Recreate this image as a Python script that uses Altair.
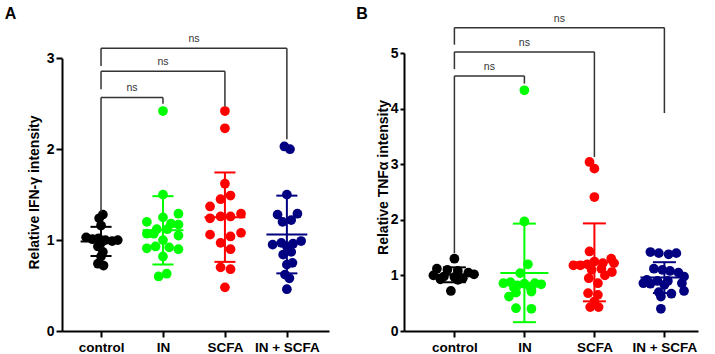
import altair as alt
import pandas as pd

groups = ["control", "IN", "SCFA", "IN + SCFA"]
group_colors = ["#000000", "#00ff00", "#ff0000", "#000080"]

# Panel A: relative IFN-gamma intensity (values and horizontal scatter per dot)
ifng_control = [1.28, 1.24, 1.16, 1.03, 1.01, 1.02, 1.00, 0.99, 1.00, 0.97, 0.93, 0.87, 0.82, 0.74, 0.72]
ifng_control_dx = [0.03, -0.03, 0.0, -0.24, -0.14, -0.04, 0.07, 0.18, 0.27, 0.0, -0.05, 0.03, 0.0, -0.05, 0.04]
ifng_in = [2.42, 1.50, 1.29, 1.25, 1.20, 1.18, 1.17, 1.12, 1.12, 1.07, 1.07, 1.05, 1.00, 0.93, 0.91, 0.92, 0.90, 0.82, 0.63, 0.60]
ifng_in_dx = [0.0, 0.0, 0.25, 0.0, -0.26, 0.13, 0.25, -0.1, 0.07, -0.26, -0.15, 0.25, 0.0, -0.12, -0.26, 0.1, 0.25, 0.0, 0.06, -0.07]
ifng_scfa = [2.42, 2.23, 1.62, 1.45, 1.49, 1.37, 1.24, 1.26, 1.26, 1.29, 1.06, 0.97, 1.04, 1.08, 0.90, 0.70, 0.68, 0.48]
ifng_scfa_dx = [0.0, 0.0, 0.0, -0.07, 0.09, -0.24, -0.24, -0.07, 0.09, 0.26, -0.24, -0.07, 0.09, 0.26, 0.09, -0.07, 0.09, 0.0]
ifng_in_scfa = [2.03, 2.00, 1.50, 1.28, 1.29, 1.20, 1.22, 0.95, 0.97, 0.96, 0.99, 0.93, 0.84, 0.87, 0.73, 0.75, 0.62, 0.58, 0.46]
ifng_in_scfa_dx = [-0.04, 0.05, 0.0, -0.15, 0.17, -0.07, 0.07, -0.23, -0.09, 0.1, 0.23, 0.0, -0.06, 0.07, 0.0, 0.09, -0.03, 0.04, 0.0]

# Panel B: relative TNF-alpha intensity
tnf_control = [1.30, 1.12, 1.10, 1.08, 1.05, 1.02, 1.00, 0.98, 0.97, 0.95, 0.93, 0.92, 0.72]
tnf_control_dx = [0.0, -0.25, -0.1, 0.05, 0.2, 0.28, -0.3, -0.15, 0.0, 0.12, -0.2, 0.05, -0.05]
tnf_in = [4.33, 1.97, 1.20, 1.04, 0.86, 0.88, 0.82, 0.85, 0.80, 0.86, 0.84, 0.78, 0.75, 0.69, 0.71, 0.62, 0.41, 0.40]
tnf_in_dx = [0.0, 0.0, 0.05, -0.06, -0.3, -0.2, -0.1, 0.0, 0.08, 0.15, 0.24, -0.15, 0.1, -0.12, 0.1, -0.22, -0.12, 0.1]
tnf_scfa = [3.04, 2.92, 2.41, 1.43, 1.30, 1.22, 1.25, 1.22, 1.18, 1.18, 1.20, 1.10, 1.12, 1.06, 1.00, 0.95, 0.86, 0.68, 0.65, 0.53, 0.43, 0.43]
tnf_scfa_dx = [-0.07, 0.0, 0.0, -0.07, 0.24, 0.28, 0.0, 0.12, -0.3, -0.2, -0.1, -0.04, 0.1, 0.25, 0.15, -0.08, 0.05, -0.09, 0.05, 0.0, -0.06, 0.06]
tnf_in_scfa = [1.42, 1.40, 1.38, 1.40, 1.12, 1.10, 1.08, 1.05, 0.98, 0.90, 0.90, 0.92, 0.86, 0.85, 0.83, 0.86, 0.72, 0.70, 0.67, 0.62, 0.40]
tnf_in_scfa_dx = [-0.2, -0.08, 0.06, 0.17, -0.15, -0.03, 0.08, 0.2, 0.28, -0.1, 0.05, -0.25, -0.3, -0.2, 0.0, 0.25, 0.28, -0.08, 0.1, -0.05, -0.05]

# Significance brackets: compared groups, bar height, leg ends, label
bracket_pairs = [(0, 1), (0, 2), (0, 3)]
bracket_labels = ["ns", "ns", "ns"]
ifng_bracket_y = [2.57, 2.857, 3.11]
ifng_bracket_left = [1.31, 2.66, 2.915]
ifng_bracket_right = [2.50, 2.47, 2.11]
tnf_bracket_y = [4.587, 5.02, 5.456]
tnf_bracket_left = [1.40, 4.71, 5.15]
tnf_bracket_right = [4.45, 3.13, 3.92]

FONT = "Liberation Sans"


def points_frame(values, offsets):
    rows = []
    for i, (vals, dxs) in enumerate(zip(values, offsets)):
        for v, d in zip(vals, dxs):
            rows.append({"group": groups[i], "idx": i, "x": i + d, "value": v})
    return pd.DataFrame(rows)


def bracket_frame(ys, lefts, rights):
    rows = []
    for (a, b), y, l, r, t in zip(bracket_pairs, ys, lefts, rights, bracket_labels):
        rows.append({"a": a, "b": b, "mid": (a + b) / 2, "y": y, "left": l, "right": r, "label": t})
    return pd.DataFrame(rows)


label_expr = " : ".join(
    f"datum.value == {i} ? '{g}'" for i, g in enumerate(groups)
) + " : ''"


def panel(df, br, ymax, yticks, ytitle, width, height, yrange, xdomain,
          mean_hw, cap_hw, title_x, title_y, letter, letter_xy, tick_size):
    color = alt.Color("group:N", scale=alt.Scale(domain=groups, range=group_colors), legend=None)
    xs = alt.Scale(domain=xdomain, nice=False, zero=False)
    ys = alt.Scale(domain=[0, ymax], nice=False, zero=True, range=yrange)

    x_axis = alt.Axis(
        values=[0, 1, 2, 3], labelExpr=label_expr, title=None, grid=False,
        domainColor="black", domainWidth=2, tickColor="black", tickWidth=2, tickSize=6,
        labelFont=FONT, labelFontSize=13.5, labelFontWeight="bold", labelColor="black",
        labelPadding=3, labelOverlap=False, labelFlush=False,
    )
    y_axis = alt.Axis(
        values=yticks, title=ytitle, grid=False,
        domainColor="black", domainWidth=2, tickColor="black", tickWidth=2, tickSize=tick_size,
        labelFont=FONT, labelFontSize=14, labelFontWeight="bold", labelColor="black",
        labelPadding=2,
        titleFont=FONT, titleFontSize=14, titleFontWeight="bold", titleColor="black",
        titleAngle=-90, titleAlign="center", titleBaseline="middle",
        titleX=title_x, titleY=title_y,
    )

    def X(field):
        return alt.X(field, scale=xs, axis=x_axis)

    def Y(field):
        return alt.Y(field, scale=ys, axis=y_axis)

    base = alt.Chart(df)
    dots = base.mark_circle(size=95, opacity=1).encode(x=X("x:Q"), y=Y("value:Q"), color=color)

    # mean ± SD computed from the dots of each group
    stats = base.transform_aggregate(
        mean="mean(value)", sd="stdev(value)", groupby=["group", "idx"]
    ).transform_calculate(
        lo="datum.mean - datum.sd",
        hi="datum.mean + datum.sd",
        mx0=f"datum.idx - {mean_hw}",
        mx1=f"datum.idx + {mean_hw}",
        cx0=f"datum.idx - {cap_hw}",
        cx1=f"datum.idx + {cap_hw}",
    )
    stem = stats.mark_rule(strokeWidth=2).encode(x=X("idx:Q"), y=Y("lo:Q"), y2="hi:Q", color=color)
    mean_line = stats.mark_rule(strokeWidth=2).encode(x=X("mx0:Q"), x2="mx1:Q", y=Y("mean:Q"), color=color)
    cap_hi = stats.mark_rule(strokeWidth=2).encode(x=X("cx0:Q"), x2="cx1:Q", y=Y("hi:Q"), color=color)
    cap_lo = stats.mark_rule(strokeWidth=2).encode(x=X("cx0:Q"), x2="cx1:Q", y=Y("lo:Q"), color=color)

    bb = alt.Chart(br)
    bar = bb.mark_rule(strokeWidth=1.5, color="#333333").encode(x=X("a:Q"), x2="b:Q", y=Y("y:Q"))
    leg_l = bb.mark_rule(strokeWidth=1.5, color="#333333").encode(x=X("a:Q"), y=Y("left:Q"), y2="y:Q")
    leg_r = bb.mark_rule(strokeWidth=1.5, color="#333333").encode(x=X("b:Q"), y=Y("right:Q"), y2="y:Q")
    ns = bb.mark_text(font=FONT, fontSize=10.5, color="#333333", baseline="middle", dy=-9).encode(
        x=X("mid:Q"), y=Y("y:Q"), text="label:N"
    )

    tag = alt.Chart(pd.DataFrame({"t": [letter]})).mark_text(
        font=FONT, fontSize=16, fontWeight="bold", color="black", baseline="middle", align="center"
    ).encode(text="t:N", x=alt.value(letter_xy[0]), y=alt.value(letter_xy[1]))

    return alt.layer(dots, stem, mean_line, cap_hi, cap_lo, bar, leg_l, leg_r, ns, tag).properties(
        width=width, height=height
    )


df_a = points_frame(
    [ifng_control, ifng_in, ifng_scfa, ifng_in_scfa],
    [ifng_control_dx, ifng_in_dx, ifng_scfa_dx, ifng_in_scfa_dx],
)
df_b = points_frame(
    [tnf_control, tnf_in, tnf_scfa, tnf_in_scfa],
    [tnf_control_dx, tnf_in_dx, tnf_scfa_dx, tnf_in_scfa_dx],
)

panel_a = panel(
    df_a, bracket_frame(ifng_bracket_y, ifng_bracket_left, ifng_bracket_right),
    3, [0, 1, 2, 3], "Relative IFN-γ intensity", 267, 278, [278, 5.3], [-0.63, 3.68],
    0.33, 0.17, -28, 139, "A", (-51.5, -38.7), 6,
)
panel_b = panel(
    df_b, bracket_frame(tnf_bracket_y, tnf_bracket_left, tnf_bracket_right),
    5, [0, 1, 2, 3, 4, 5], "Relative TNFα intensity", 294, 278, [278, 0], [-0.72, 3.48],
    0.343, 0.164, -21, 124, "B", (-42, -39), 4,
)

chart = alt.hconcat(panel_a, panel_b, spacing=75, bounds="flush").properties(
    padding={"left": 4, "top": 6, "right": 5, "bottom": 0}
).configure_view(stroke=None)

chart.save("out.html", embed_options={"renderer": "svg", "actions": False})
